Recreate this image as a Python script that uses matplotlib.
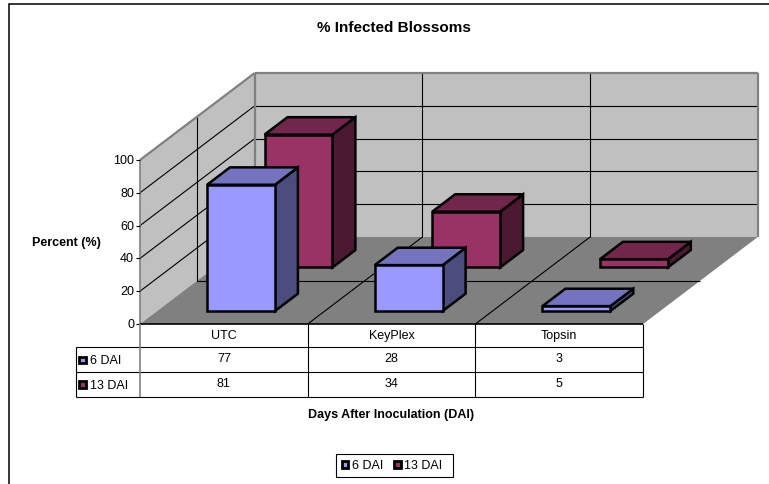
#!/usr/bin/env python3
"""% Infected Blossoms: Excel style 3D column chart with a data table."""
import matplotlib
matplotlib.use("Agg")
import matplotlib.pyplot as plt
from matplotlib.patches import Polygon, Rectangle

plt.rcParams["font.family"] = ["Liberation Sans", "DejaVu Sans"]

CATEGORIES = ["UTC", "KeyPlex", "Topsin"]
DAI_6 = [77, 28, 3]
DAI_13 = [81, 34, 5]
SERIES_NAMES = ["6 DAI", "13 DAI"]
Y_TICKS = [0, 20, 40, 60, 80, 100]

# colours: front, top, side
COLORS_6 = ("#9999ff", "#7373bf", "#4c4c7f")
COLORS_13 = ("#993366", "#73264c", "#4c1933")

# oblique projection, in figure pixels
X0, Y0 = 140, 325
CAT_W = 167.7
DX, DY = 114.7, 87
UNIT = 1.64

fig = plt.figure(figsize=(7.69, 4.85), dpi=100)
ax = fig.add_axes([0, 0, 1, 1])
ax.set_xlim(0, 769)
ax.set_ylim(485, 0)
ax.axis("off")

def proj(c, d, v=0):
    return (X0 + CAT_W * c + DX * d, Y0 - DY * d - UNIT * v)

def poly(pts, fc, ec="none", lw=0, z=1):
    ax.add_patch(Polygon(pts, closed=True, fc=fc, ec=ec, lw=lw, zorder=z,
                         joinstyle="miter"))

def line(p, q, color="black", lw=0.8, z=2):
    ax.plot([p[0], q[0]], [p[1], q[1]], color=color, lw=lw, zorder=z,
            solid_capstyle="butt")

def bar(c, d, v, colors, z):
    w, dep = 0.405, 0.2
    x0, x1 = c + 0.298, c + 0.298 + w
    d1 = d + dep
    front = [proj(x0, d, 0), proj(x1, d, 0), proj(x1, d, v), proj(x0, d, v)]
    top = [proj(x0, d, v), proj(x1, d, v), proj(x1, d1, v), proj(x0, d1, v)]
    side = [proj(x1, d, 0), proj(x1, d1, 0), proj(x1, d1, v), proj(x1, d, v)]
    for pts, fc in zip((side, top, front), (colors[2], colors[1], colors[0])):
        poly(pts, fc, ec="black", lw=1.8, z=z)

n = len(CATEGORIES)
vmax = Y_TICKS[-1]

# chart frame, right and bottom edges fall outside the picture
ax.add_patch(Rectangle((8.5, 5), 770, 490, fc="white", ec="black", lw=1.1, zorder=0))

# walls and floor
poly([proj(0, 0), proj(0, 1), proj(0, 1, vmax), proj(0, 0, vmax)], "#c0c0c0")
poly([proj(0, 1), proj(n, 1), proj(n, 1, vmax), proj(0, 1, vmax)], "#c0c0c0")
poly([proj(0, 0), proj(n, 0), proj(n, 1), proj(0, 1)], "#808080")

# gridlines
for t in Y_TICKS[1:-1]:
    line(proj(0, 0, t), proj(0, 1, t))
    line(proj(0, 1, t), proj(n, 1, t))
for c in range(1, n):
    line(proj(c, 0), proj(c, 1))
    line(proj(c, 1), proj(c, 1, vmax))
line(proj(0, 0.5), proj(n, 0.5))
line(proj(0, 0.5), proj(0, 0.5, vmax))

# wall edges
edge = "#808080"
line(proj(0, 0, vmax), proj(0, 1, vmax), edge, 1.6, 3)
line(proj(0, 1, vmax), proj(n, 1, vmax), edge, 1.6, 3)
line(proj(n, 1, vmax), proj(n, 1), edge, 1.6, 3)
line(proj(0, 1), proj(0, 1, vmax), edge, 1.6, 3)

# columns, back row first
for c in range(n):
    bar(c, 0.65, DAI_13[c], COLORS_13, 4 + c * 2)
    bar(c, 0.149, DAI_6[c], COLORS_6, 5 + c * 2)

# y axis
line(proj(0, 0), proj(0, 0, vmax), "#808080", 1.2, 12)
for t in Y_TICKS:
    x, y = proj(0, 0, t)
    line((x - 4, y), (x, y), "black", 0.8, 12)
    ax.text(x - 6, y, str(t), ha="right", va="center", fontsize=9, color="black")

# data table
TY = [325, 348, 373, 397.5]
TL = 75.5
XR = proj(n, 0)[0]
line((X0, TY[0]), (XR, TY[0]), "black", 1.2, 12)
for y in TY[1:]:
    line((TL, y), (XR, y), "black", 0.8, 12)
line((TL, TY[1]), (TL, TY[3]), "black", 0.8, 12)
line((X0, TY[0]), (X0, TY[3]), "#808080", 1.2, 12)
for c in range(1, n + 1):
    xc = proj(c, 0)[0]
    line((xc, TY[0]), (xc, TY[3]), "black", 0.8, 12)
for c, name in enumerate(CATEGORIES):
    xm = proj(c + 0.5, 0)[0]
    ax.text(xm, 336, name, ha="center", va="center", fontsize=9)
    ax.text(xm, 359, str(DAI_6[c]), ha="center", va="center", fontsize=9)
    ax.text(xm, 384, str(DAI_13[c]), ha="center", va="center", fontsize=9)

def swatch(x, y, fc):
    ax.add_patch(Rectangle((x, y), 6.5, 6.5, fc=fc, ec="black", lw=2, zorder=13))

for i, (name, cols) in enumerate(zip(SERIES_NAMES, (COLORS_6, COLORS_13))):
    y = (TY[i + 1] + TY[i + 2]) / 2
    swatch(79, y - 3, cols[0])
    ax.text(89.5, y + 1, name, ha="left", va="center", fontsize=9)

# titles
ax.text(393.5, 28, "% Infected Blossoms", ha="center", va="center",
        fontsize=11, fontweight="bold")
ax.text(66.5, 243, "Percent (%)", ha="center", va="center", fontsize=9, fontweight="bold")
ax.text(391.5, 415, "Days After Inoculation (DAI)", ha="center", va="center",
        fontsize=9, fontweight="bold")

# legend
ax.add_patch(Rectangle((335.5, 454.5), 117, 23.5, fc="white", ec="black", lw=0.8, zorder=12))
swatch(341.5, 462, COLORS_6[0])
ax.text(352, 466, SERIES_NAMES[0], ha="left", va="center", fontsize=9, zorder=13)
swatch(394, 462, COLORS_13[0])
ax.text(404, 466, SERIES_NAMES[1], ha="left", va="center", fontsize=9, zorder=13)

fig.savefig("out.png", dpi=100)
